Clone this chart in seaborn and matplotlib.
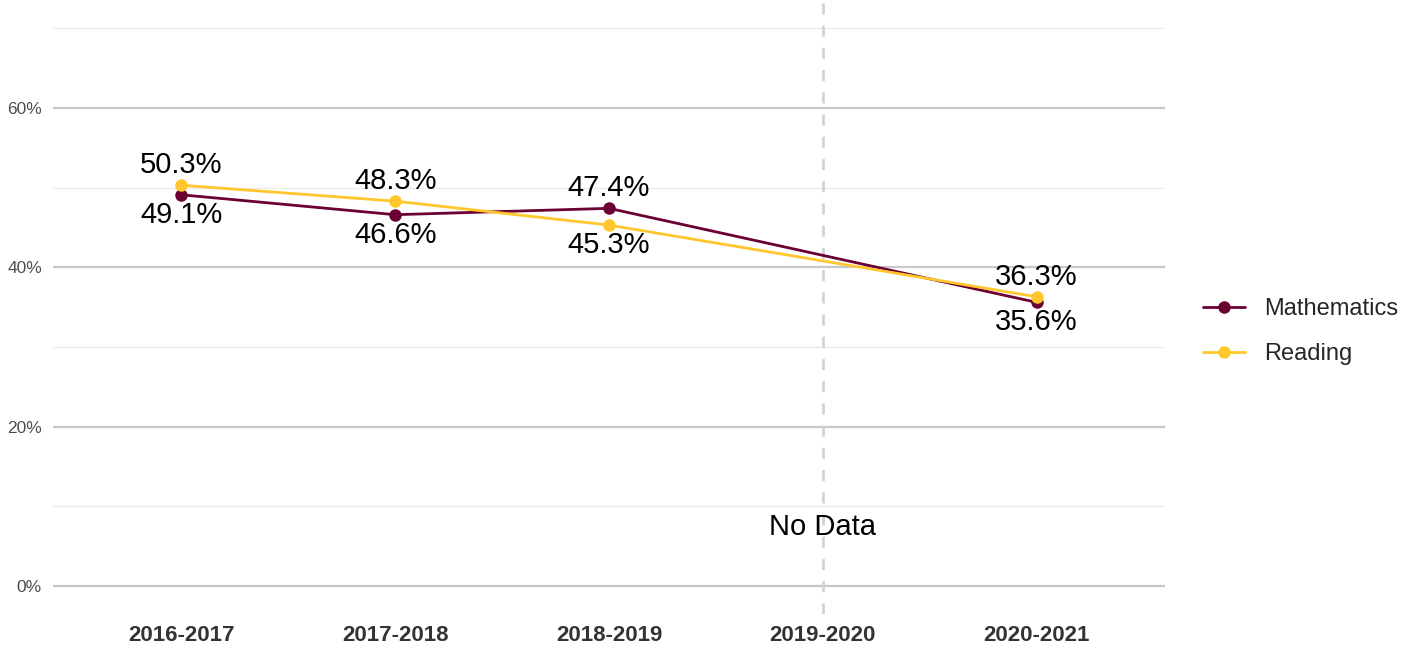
import pandas as pd
import matplotlib
matplotlib.use('Agg')
import matplotlib.pyplot as plt
from matplotlib.ticker import MultipleLocator, PercentFormatter
import seaborn as sns

years = ['2016-2017', '2017-2018', '2018-2019', '2019-2020', '2020-2021']
math_vals = [49.1, 46.6, 47.4, None, 35.6]
reading_vals = [50.3, 48.3, 45.3, None, 36.3]
no_data_year = '2019-2020'

rows = []
for i, yr in enumerate(years):
    if math_vals[i] is not None:
        rows.append({'pos': i, 'year': yr, 'subject': 'Mathematics', 'pct': math_vals[i]})
    if reading_vals[i] is not None:
        rows.append({'pos': i, 'year': yr, 'subject': 'Reading', 'pct': reading_vals[i]})
df = pd.DataFrame(rows)

palette = {'Mathematics': '#6B0033', 'Reading': '#FFC72C'}

sns.set_theme(style='white')
plt.rcParams['font.family'] = ['Liberation Sans', 'DejaVu Sans']

fig = plt.figure(figsize=(14.21, 6.48), dpi=100)
ax = fig.add_axes([0.0373, 0.0525, 0.7825, 0.947])

sns.lineplot(data=df, x='pos', y='pct', hue='subject', palette=palette,
             marker='o', markersize=9, markeredgewidth=0, linewidth=2,
             ax=ax, zorder=3)

ax.set_xlim(-0.6, 4.6)
ax.set_ylim(-3.5, 73.5)
ax.yaxis.set_major_locator(MultipleLocator(20))
ax.yaxis.set_minor_locator(MultipleLocator(10))
ax.yaxis.set_major_formatter(PercentFormatter(decimals=0))
ax.grid(False)
ax.grid(axis='y', which='major', color='#C8C8C8', linewidth=1.6)
ax.grid(axis='y', which='minor', color='#EBEBEB', linewidth=1.0)
ax.set_axisbelow(True)
for s in ax.spines.values():
    s.set_visible(False)

ax.set_xticks(range(len(years)))
ax.set_xticklabels(years, fontweight='bold', fontsize=16, color='#333333')
ax.tick_params(axis='y', labelsize=12.5, labelcolor='#4D4D4D', length=0, pad=8)
ax.tick_params(axis='x', length=0, pad=8)
ax.set_xlabel('')
ax.set_ylabel('')

# vertical dashed marker for the missing year
nd = years.index(no_data_year)
ax.axvline(nd, color='#D3D3D3', linewidth=2, linestyle=(0, (4, 4)), zorder=1)
ax.text(nd, 7.4, 'No Data', ha='center', va='center', fontsize=21, color='black')

# value labels: higher value above point, lower below
for i in range(len(years)):
    m, r = math_vals[i], reading_vals[i]
    if m is None:
        continue
    for v, other in ((m, r), (r, m)):
        off = 20 if v >= other else -20
        ax.annotate(f'{v:.1f}%', (i, v), textcoords='offset pixels', xytext=(0, off),
                    ha='center', va='center', fontsize=21, color='black')

leg = ax.legend(title=None, frameon=False, loc='center left',
                bbox_to_anchor=(1.015, 0.46), fontsize=17,
                handlelength=1.8, labelspacing=0.95, handletextpad=0.8)

fig.savefig('out.png', dpi=100)
